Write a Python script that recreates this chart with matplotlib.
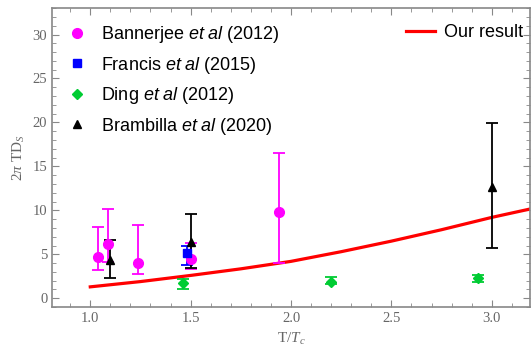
import numpy as np
import matplotlib.pyplot as plt
from matplotlib.lines import Line2D
from matplotlib.ticker import MultipleLocator

plt.rcParams['mathtext.fontset'] = 'custom'
plt.rcParams['mathtext.rm'] = 'Liberation Serif'
plt.rcParams['mathtext.it'] = 'Liberation Serif:italic'
plt.rcParams['mathtext.sf'] = 'Liberation Sans:italic'

# Bannerjee et al (2012)
ban_x = [1.04, 1.09, 1.24, 1.50, 1.94]
ban_y = [4.7, 6.2, 4.0, 4.5, 9.8]
ban_lo = [3.2, 4.1, 2.8, 3.3, 4.0]
ban_hi = [8.1, 10.2, 8.3, 6.3, 16.5]

# Francis et al (2015)
fra_x = [1.48]
fra_y = [5.1]
fra_lo = [3.8]
fra_hi = [5.9]

# Ding et al (2012)
din_x = [1.46, 2.20, 2.93]
din_y = [1.7, 1.9, 2.3]
din_lo = [1.1, 1.6, 1.8]
din_hi = [2.2, 2.4, 2.7]

# Brambilla et al (2020)
bra_x = [1.10, 1.50, 3.00]
bra_y = [4.3, 6.4, 12.7]
bra_lo = [2.3, 3.5, 5.7]
bra_hi = [6.6, 9.6, 19.9]

# our result curve
res_x = [1.0, 1.25, 1.5, 1.75, 2.0, 2.25, 2.5, 2.75, 3.0, 3.2]
res_y = [1.3, 1.9, 2.6, 3.35, 4.2, 5.3, 6.5, 7.8, 9.2, 10.2]

fig = plt.figure(figsize=(5.32, 3.55), dpi=100)
ax = fig.add_axes([0.098, 0.135, 0.898, 0.842])

line, = ax.plot(res_x, res_y, color='red', lw=2.3, label='Our result')


def series(x, y, lo, hi, color, marker, ms, label):
    y = np.array(y)
    err = [y - np.array(lo), np.array(hi) - y]
    ax.errorbar(x, y, yerr=err, fmt=marker, color=color, ms=ms,
                elinewidth=1.3, capsize=4, capthick=1.3)
    return Line2D([], [], ls='none', marker=marker, color=color, ms=ms, label=label)


h1 = series(ban_x, ban_y, ban_lo, ban_hi, '#ff00ff', 'o', 7, 'Bannerjee $\\mathsf{et\\ al}$ (2012)')
h2 = series(fra_x, fra_y, fra_lo, fra_hi, '#0000ff', 's', 6, 'Francis $\\mathsf{et\\ al}$ (2015)')
h3 = series(din_x, din_y, din_lo, din_hi, '#00cc33', 'D', 5, 'Ding $\\mathsf{et\\ al}$ (2012)')
h4 = series(bra_x, bra_y, bra_lo, bra_hi, 'black', '^', 6, 'Brambilla $\\mathsf{et\\ al}$ (2020)')

ax.set_xlim(0.81, 3.19)
ax.set_ylim(-1, 33)

ax.xaxis.set_major_locator(MultipleLocator(0.5))
ax.xaxis.set_minor_locator(MultipleLocator(0.1))
ax.yaxis.set_major_locator(MultipleLocator(5))
ax.yaxis.set_minor_locator(MultipleLocator(1))
ax.tick_params(which='both', direction='in', top=True, right=True,
               color='#888888', labelcolor='#666666', labelsize=10.5)
ax.tick_params(which='major', length=5)
ax.tick_params(which='minor', length=3)
ax.set_xticks([1.0, 1.5, 2.0, 2.5, 3.0])
ax.set_xticklabels(['1.0', '1.5', '2.0', '2.5', '3.0'], family='Liberation Serif')
for lab in ax.get_yticklabels():
    lab.set_family('Liberation Serif')
for s in ax.spines.values():
    s.set_color('#888888')
    s.set_linewidth(1.2)

ax.set_xlabel('T/$T_c$', family='Liberation Serif', color='#666666', fontsize=11)
ax.set_ylabel('2$\\pi$ T$\\mathrm{D}_S$', family='Liberation Serif', color='#666666', fontsize=11)

leg1 = ax.legend(handles=[h1, h2, h3, h4], loc='upper left', frameon=False,
                 prop={'family': 'Liberation Sans', 'size': 13},
                 bbox_to_anchor=(0.0, 1.0), handlelength=1.0, handletextpad=0.8,
                 labelspacing=0.52)
ax.add_artist(leg1)
ax.legend(handles=[line], loc='upper right', frameon=False,
          prop={'family': 'Liberation Sans', 'size': 13},
          bbox_to_anchor=(1.02, 1.0), handlelength=1.6, handletextpad=0.5)

fig.savefig('out.png', dpi=100)
